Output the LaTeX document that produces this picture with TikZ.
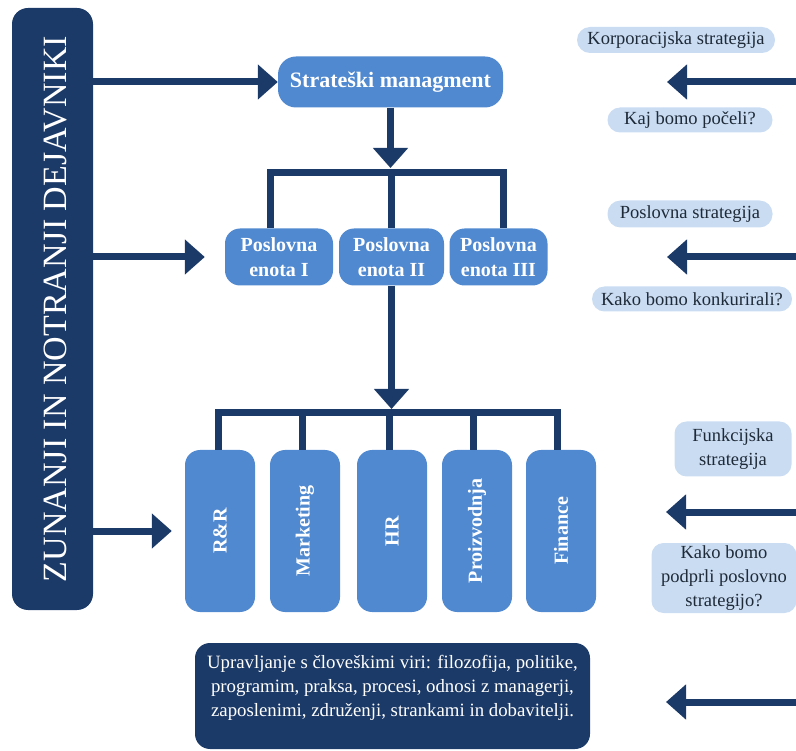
\documentclass[tikz,border=0pt]{standalone}
\usepackage{fontspec}
\setmainfont{Liberation Serif}
\usetikzlibrary{arrows.meta}
\definecolor{navy}{HTML}{1C3A68}
\definecolor{midblue}{HTML}{5089D0}
\definecolor{pillblue}{HTML}{C9DCF2}
\definecolor{pilltext}{HTML}{1F2A38}
\tikzset{
  navybox/.style={fill=navy, draw=none, rounded corners=16pt, inner sep=0pt},
  bluebox/.style={fill=midblue, draw=none, rounded corners=15pt, inner sep=0pt, text=white, font=\fontsize{20}{25}\selectfont\bfseries, align=center},
  funcbox/.style={bluebox, minimum width=70pt, minimum height=162pt},
  functext/.style={rotate=90, text=white, font=\fontsize{20}{24}\selectfont\bfseries},
  pill/.style={fill=pillblue, draw=none, rounded corners=12pt, inner sep=0pt, text=pilltext, font=\fontsize{18.5}{24}\selectfont, align=center},
  arr/.style={draw=navy, line width=7pt, -{Triangle[length=20pt, width=34pt]}},
  conn/.style={draw=navy, line width=7pt},
}
\begin{document}
\begin{tikzpicture}[x=1pt,y=-1pt]
\useasboundingbox (0,0) rectangle (796,751);

% left bar
\node[navybox, minimum width=81pt, minimum height=602pt] (bar) at (52.5,309) {};
\node[rotate=90, text=white, font=\fontsize{34}{40}\selectfont] (title) at (56,309) {ZUNANJI IN NOTRANJI DEJAVNIKI};

% strategic management
\node[bluebox, rounded corners=18pt, minimum width=225pt, minimum height=51pt, font=\fontsize{22}{26}\selectfont\bfseries] (sm) at (390.5,82) {Strateški managment};

% business units
\node[bluebox, minimum width=108pt, minimum height=57pt] (pe1) at (279,257) {Poslovna\\enota I};
\node[bluebox, minimum width=105pt, minimum height=57pt] (pe2) at (391.5,257) {Poslovna\\enota II};
\node[bluebox, minimum width=98pt, minimum height=57pt] (pe3) at (498.5,257) {Poslovna\\enota III};

% functions
\node[funcbox] (fa) at (220,531) {};
\node[funcbox] (fb) at (305,531) {};
\node[funcbox] (fc) at (392,531) {};
\node[funcbox] (fd) at (477,531) {};
\node[funcbox] (fe) at (561,531) {};
\node[functext] (ta) at (fa.center) {R\&R};
\node[functext] (tb) at (fb.center) {Marketing};
\node[functext] (tc) at (fc.center) {HR};
\node[functext] (td) at (fd.center) {Proizvodnja};
\node[functext] (te) at (fe.center) {Finance};

% bottom box
\node[navybox, rounded corners=15pt, minimum width=395pt, minimum height=106pt] (hr) at (392.5,696) {};
\node[text=white, align=center, font=\fontsize{18.8}{24}\selectfont] (hrtext) at (392.5,688)
  {Upravljanje s človeškimi viri: filozofija, politike,\\programim, praksa, procesi, odnosi z managerji,\\zaposlenimi, združenji, strankami in dobavitelji.};

% right pills
\node[pill, rounded corners=13pt, minimum width=198pt, minimum height=26pt] (k1) at (676,40) {Korporacijska strategija};
\node[pill, rounded corners=12.5pt, minimum width=165pt, minimum height=25pt] (k2) at (690,120) {Kaj bomo počeli?};
\node[pill, rounded corners=13pt, minimum width=165pt, minimum height=27pt] (p1) at (690,214) {Poslovna strategija};
\node[pill, rounded corners=12.5pt, minimum width=200pt, minimum height=25pt] (p2) at (692,299) {Kako bomo konkurirali?};
\node[pill, minimum width=117pt, minimum height=55pt] (f1) at (733,449) {Funkcijska\\strategija};
\node[pill, minimum width=145pt, minimum height=70pt] (f2) at (724,578) {Kako bomo\\podprli poslovno\\strategijo?};

% right arrows
\coordinate (r1) at (796,82);  \coordinate (t1) at (667,82);
\coordinate (r2) at (796,257); \coordinate (t2) at (667,257);
\coordinate (r3) at (796,512); \coordinate (t3) at (666,512);
\coordinate (r4) at (796,702); \coordinate (t4) at (666,702);
\draw[arr] (r1) -- (t1);
\draw[arr] (r2) -- (t2);
\draw[arr] (r3) -- (t3);
\draw[arr] (r4) -- (t4);

% left arrows
\draw[arr] (bar.east |- sm.west) -- (sm.west);
\draw[arr] (bar.east |- pe1.west) -- ([xshift=-20pt]pe1.west);
\draw[arr] (bar.east |- fa.west) -- ([xshift=-13pt]fa.west);

% tree 1
\coordinate (d1) at (390.5,168);
\draw[arr] (sm.south) -- (d1);
\draw[conn] ([xshift=-9pt]pe1.north) -- ++(0,-56) -| ([xshift=4.5pt]pe3.north);
\draw[conn] (pe2.north) -- ++(0,-56);

% tree 2
\coordinate (d2) at (391.5,409);
\draw[arr] (pe2.south) -- (d2);
\draw[conn] ([xshift=-2pt]fa.north) -- ++(0,-37) -| ([xshift=-4pt]fe.north);
\draw[conn] ([xshift=-3pt]fb.north) -- ++(0,-37);
\draw[conn] ([xshift=-3pt]fc.north) -- ++(0,-37);
\draw[conn] ([xshift=-4pt]fd.north) -- ++(0,-37);
\end{tikzpicture}
\end{document}
